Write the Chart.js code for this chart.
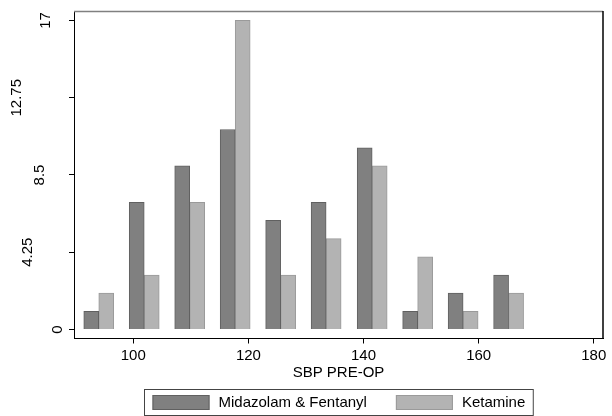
<!DOCTYPE html>
<html>
<head>
<meta charset="utf-8">
<script src="https://cdn.jsdelivr.net/npm/chart.js@4.4.1/dist/chart.umd.min.js"></script>
<style>
  html, body { margin: 0; padding: 0; background: #fff; }
  canvas { display: block; }
</style>
</head>
<body>
<canvas id="sbpChart" width="612" height="416"></canvas>
<script>
// SBP bins (centre of each bar pair) and counts per group
const sbpBins = [94, 101.9, 109.8, 117.7, 125.6, 133.5, 141.5, 149.4, 157.3, 165.2];
const midazolamCounts = [1, 7, 9, 11, 6, 7, 10, 1, 2, 3];
const ketamineCounts = [2, 3, 7, 17, 3, 5, 9, 4, 1, 2];
const groupNames = ["Midazolam & Fentanyl", "Ketamine"];

const xTicks = [100, 120, 140, 160, 180];
const yTicks = [0, 4.25, 8.5, 12.75, 17];
const yTickLabels = ["0", "4.25", "8.5", "12.75", "17"];
const xTitle = "SBP PRE-OP";

const FONT = "'Liberation Sans', Arial, Helvetica, sans-serif";
Chart.defaults.font.family = FONT;
Chart.defaults.font.size = 15;
Chart.defaults.color = "#000";

const toPoints = (counts) => sbpBins.map((x, i) => ({ x: x, y: counts[i] }));

// frame, rotated y labels and the boxed legend
const stataBits = {
  id: "stataBits",
  afterDraw(chart) {
    const ctx = chart.ctx;
    const area = chart.chartArea;
    const yScale = chart.scales.y;
    ctx.save();

    // top + right edges of plot region
    ctx.lineWidth = 1.5;
    ctx.strokeStyle = "#808080";
    ctx.beginPath();
    ctx.moveTo(area.left, area.top + 0.5);
    ctx.lineTo(area.right, area.top + 0.5);
    ctx.stroke();
    ctx.strokeStyle = "#000";
    ctx.beginPath();
    ctx.moveTo(area.right, area.top);
    ctx.lineTo(area.right, area.bottom);
    ctx.stroke();

    // y tick labels, vertical
    ctx.font = "15px " + FONT;
    ctx.fillStyle = "#000";
    ctx.textAlign = "center";
    ctx.textBaseline = "middle";
    yScale.ticks.forEach((t, i) => {
      const txt = yTickLabels[i];
      const w = ctx.measureText(txt).width;
      const py = yScale.getPixelForValue(t.value);
      const cx = 69.2 - 1.4 * w;
      ctx.save();
      ctx.translate(cx, py);
      ctx.rotate(-Math.PI / 2);
      ctx.fillText(txt, 0, 0);
      ctx.restore();
    });

    // legend
    const sw = 57, sh = 15, gapText = 9, gapItem = 29, pad = 8;
    const widths = groupNames.map((n) => ctx.measureText(n).width);
    let total = pad * 2 + gapItem * (groupNames.length - 1);
    widths.forEach((w) => { total += sw + gapText + w; });
    const boxX = Math.round((area.left + area.right) / 2 - total / 2) + 0.5;
    const boxY = 389.5, boxH = 26;
    ctx.lineWidth = 1;
    ctx.strokeStyle = "#444";
    ctx.strokeRect(boxX, boxY, total, boxH);
    let x = boxX + pad;
    const midY = boxY + boxH / 2;
    ctx.textAlign = "left";
    chart.data.datasets.forEach((ds, i) => {
      ctx.fillStyle = ds.backgroundColor;
      ctx.fillRect(x, midY - sh / 2, sw, sh);
      ctx.strokeStyle = ds.borderColor;
      ctx.strokeRect(x + 0.5, midY - sh / 2 + 0.5, sw - 1, sh - 1);
      x += sw + gapText;
      ctx.fillStyle = "#000";
      ctx.fillText(groupNames[i], x, midY);
      x += widths[i] + gapItem;
    });
    ctx.restore();
  }
};

new Chart(document.getElementById("sbpChart"), {
  type: "bar",
  data: {
    datasets: [
      {
        label: groupNames[0],
        data: toPoints(midazolamCounts),
        backgroundColor: "#808080",
        borderColor: "#606060",
        borderWidth: 1,
      },
      {
        label: groupNames[1],
        data: toPoints(ketamineCounts),
        backgroundColor: "#b3b3b3",
        borderColor: "#9a9a9a",
        borderWidth: 1,
      },
    ],
  },
  options: {
    responsive: false,
    animation: false,
    devicePixelRatio: 1,
    barThickness: 15,
    layout: { padding: { left: 0, top: 11, right: 9, bottom: 32 } },
    plugins: {
      legend: { display: false },
      tooltip: { enabled: false },
    },
    scales: {
      x: {
        type: "linear",
        min: 89.7,
        max: 181.6,
        offset: false,
        afterBuildTicks: (s) => { s.ticks = xTicks.map((v) => ({ value: v })); },
        afterFit: (s) => { s.height = 45.5; },
        ticks: { padding: 3, font: { size: 15 }, color: "#000", maxRotation: 0 },
        grid: { offset: false, drawOnChartArea: false, drawTicks: true, tickLength: 5, color: "#000" },
        border: { color: "#000", width: 1 },
        title: {
          display: true,
          text: xTitle,
          font: { size: 15 },
          color: "#000",
          padding: { top: 0, bottom: 2 },
        },
      },
      y: {
        type: "linear",
        min: -0.495,
        max: 17.52,
        afterBuildTicks: (s) => { s.ticks = yTicks.map((v) => ({ value: v })); },
        afterFit: (s) => { s.width = 74; },
        ticks: { display: false },
        grid: { drawOnChartArea: false, drawTicks: true, tickLength: 5, color: "#000" },
        border: { color: "#000", width: 1 },
      },
    },
  },
  plugins: [stataBits],
});
</script>
</body>
</html>
